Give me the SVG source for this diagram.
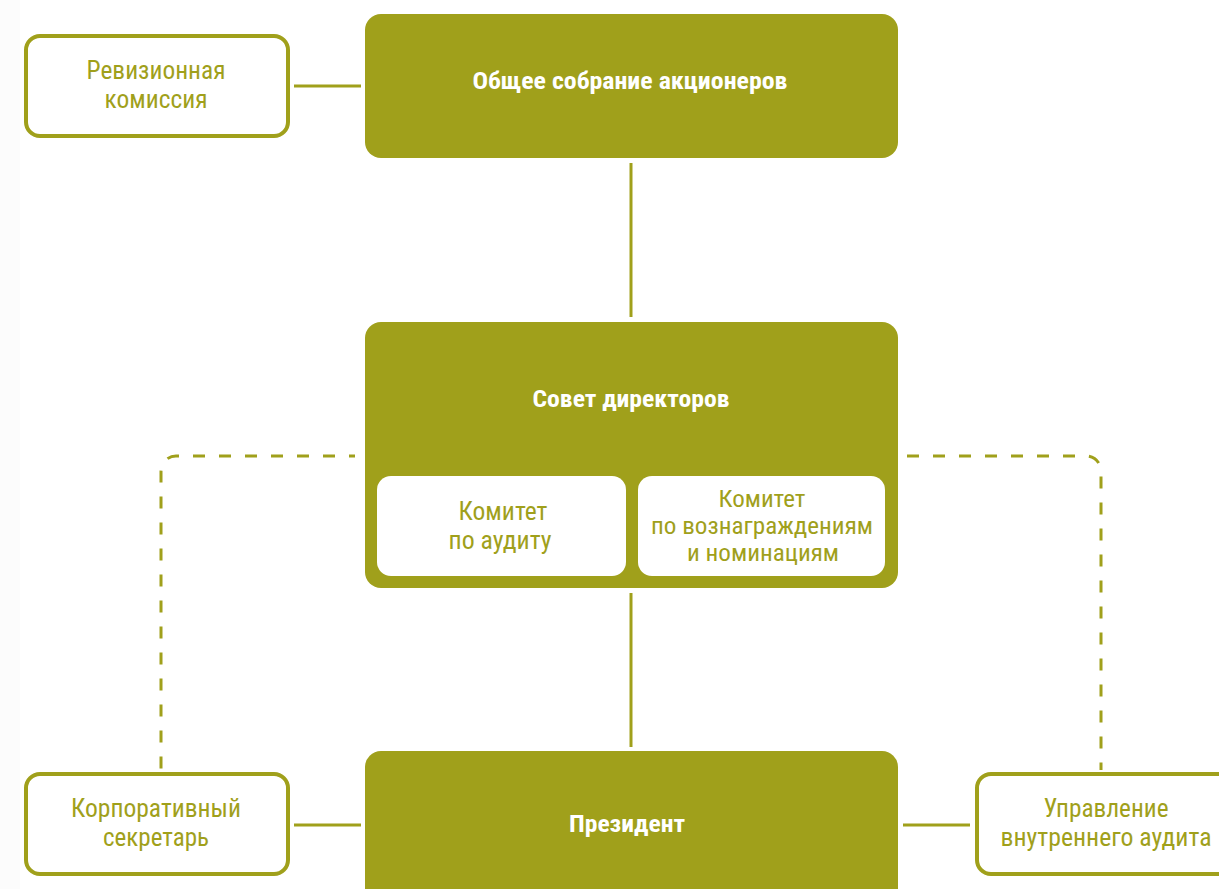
<svg xmlns="http://www.w3.org/2000/svg" width="1219" height="889" viewBox="0 0 1219 889">
<style>
.fill{fill:#a0a01b}
.out{fill:#fff;stroke:#a0a01b;stroke-width:4}
.inner{fill:#fff}
.t{font-family:"Roboto Condensed","Liberation Sans Narrow",Roboto,"Liberation Sans",sans-serif;font-size:26px;fill:#a0a01b;text-anchor:middle}
.s{font-size:23px}
.b{font-family:"Roboto Condensed","Liberation Sans Narrow",Roboto,"Liberation Sans",sans-serif;font-size:24px;font-weight:bold;fill:#fff;text-anchor:middle}
.ln{stroke:#a0a01b;stroke-width:3;fill:none}
.dash{stroke:#a0a01b;stroke-width:3;fill:none;stroke-dasharray:12 14}
</style>
<rect width="1219" height="889" fill="#fff"/>
<rect width="20" height="889" fill="#fcfcfc"/>
<g id="connectors">
<line class="ln" x1="294" y1="86" x2="361" y2="86"/>
<line class="ln" x1="631" y1="163" x2="631" y2="317"/>
<line class="ln" x1="631" y1="593" x2="631" y2="747"/>
<line class="ln" x1="294" y1="825" x2="361" y2="825"/>
<line class="ln" x1="903" y1="825" x2="970" y2="825"/>
<path class="dash" d="M355 456 H176 A15 15 0 0 0 161 471 V770" style="stroke-dashoffset:6"/>
<path class="dash" d="M907 456 H1086 A15 15 0 0 1 1101 471 V770"/>
</g>
<g id="shareholders">
<rect class="fill" x="365" y="14" width="533" height="144" rx="16"/>
<text class="b" x="630" y="89" textLength="315" lengthAdjust="spacingAndGlyphs">Общее собрание акционеров</text>
</g>
<g id="audit-commission">
<rect class="out" x="26" y="36" width="262" height="100" rx="14"/>
<text class="t" x="156" y="79" textLength="139" lengthAdjust="spacingAndGlyphs">Ревизионная</text>
<text class="t" x="156" y="108" textLength="103" lengthAdjust="spacingAndGlyphs">комиссия</text>
</g>
<g id="board">
<rect class="fill" x="365" y="322" width="533" height="266" rx="16"/>
<text class="b" x="631" y="407" textLength="197" lengthAdjust="spacingAndGlyphs">Совет директоров</text>
</g>
<g id="audit-committee">
<rect class="inner" x="377" y="476" width="249" height="100" rx="14"/>
<text class="t" x="503" y="520" textLength="89" lengthAdjust="spacingAndGlyphs">Комитет</text>
<text class="t" x="500" y="549" textLength="103" lengthAdjust="spacingAndGlyphs">по аудиту</text>
</g>
<g id="nomination-committee">
<rect class="inner" x="638" y="476" width="247" height="100" rx="14"/>
<text class="t s" x="762" y="507" textLength="87" lengthAdjust="spacingAndGlyphs">Комитет</text>
<text class="t s" x="762" y="534" textLength="222" lengthAdjust="spacingAndGlyphs">по вознаграждениям</text>
<text class="t s" x="763" y="561" textLength="152" lengthAdjust="spacingAndGlyphs">и номинациям</text>
</g>
<g id="president">
<rect class="fill" x="365" y="751" width="533" height="160" rx="16"/>
<text class="b" x="627" y="832" textLength="116" lengthAdjust="spacingAndGlyphs">Президент</text>
</g>
<g id="corporate-secretary">
<rect class="out" x="26" y="774" width="262" height="100" rx="14"/>
<text class="t" x="156" y="817" textLength="170" lengthAdjust="spacingAndGlyphs">Корпоративный</text>
<text class="t" x="156" y="846" textLength="106" lengthAdjust="spacingAndGlyphs">секретарь</text>
</g>
<g id="internal-audit">
<rect class="out" x="977" y="774" width="262" height="100" rx="14"/>
<text class="t" x="1106" y="817" textLength="125" lengthAdjust="spacingAndGlyphs">Управление</text>
<text class="t" x="1106" y="846" textLength="211" lengthAdjust="spacingAndGlyphs">внутреннего аудита</text>
</g>
</svg>
